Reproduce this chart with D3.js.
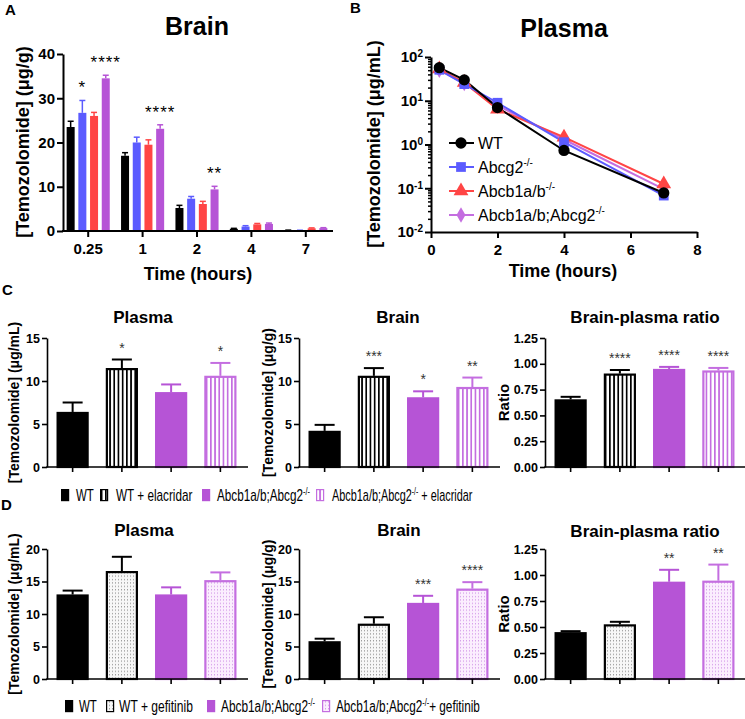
<!DOCTYPE html>
<html><head><meta charset="utf-8">
<script src="https://cdn.jsdelivr.net/npm/d3@7"></script>
<style>
body{margin:0;background:#fff;}
svg{display:block;font-family:"Liberation Sans",Arial,Helvetica,sans-serif;}
</style></head><body>
<svg id="c" width="745" height="719"></svg>
<script>
// ================= DATA =================
// Panel A: brain concentrations (µg/g) by time point and genotype
const timeLabelsA = ["0.25","1","2","4","7"];
const genotypes = ["WT","Abcg2-/-","Abcb1a/b-/-","Abcb1a/b;Abcg2-/-"];
const brainWT       = [23.5, 17.0, 5.2, 0.5, 0.15];
const brainAbcg2    = [26.7, 20.0, 7.3, 1.0, 0.12];
const brainAbcb1    = [26.0, 19.5, 6.1, 1.5, 0.6];
const brainComb     = [34.5, 23.1, 9.4, 1.6, 0.65];
const brainWTErr    = [1.3, 0.7, 0.6, 0.1, 0.05];
const brainAbcg2Err = [2.8, 1.2, 0.5, 0.2, 0.05];
const brainAbcb1Err = [0.8, 1.1, 0.6, 0.2, 0.1];
const brainCombErr  = [0.7, 0.9, 0.7, 0.2, 0.1];
const starsA_WT    = ["","","","",""];
const starsA_Abcg2 = ["*","","","",""];
const starsA_Abcb1 = ["","","","",""];
const starsA_Comb  = ["****","****","**","",""];

// Panel B: plasma concentrations (µg/mL), log scale
const plasmaTimes = [0.25, 1, 2, 4, 7];
const plasmaWT    = [57, 30, 7.0, 0.73, 0.078];
const plasmaAbcg2 = [51, 24, 9.0, 1.13, 0.068];
const plasmaAbcb1 = [53, 26, 6.4, 1.47, 0.125];
const plasmaComb  = [50, 25, 7.8, 1.30, 0.095];
const plasmaXTicks = [0, 2, 4, 6, 8];
const plasmaYTicks = [0.01, 0.1, 1, 10, 100];

// Panel C: elacridar
const groupsC      = ["WT","WT + elacridar","Abcb1a/b;Abcg2-/-","Abcb1a/b;Abcg2-/- + elacridar"];
const cPlasma      = [6.4, 11.5, 8.7, 10.6];
const cPlasmaErr   = [1.1, 1.0, 0.9, 1.5];
const cPlasmaStars = ["","*","","*"];
const cBrain       = [4.2, 10.6, 8.1, 9.3];
const cBrainErr    = [0.7, 0.9, 0.7, 1.1];
const cBrainStars  = ["","***","*","**"];
const cRatio       = [0.655, 0.905, 0.950, 0.935];
const cRatioErr    = [0.025, 0.035, 0.020, 0.025];
const cRatioStars  = ["","****","****","****"];

// Panel D: gefitinib
const groupsD      = ["WT","WT + gefitinib","Abcb1a/b;Abcg2-/-","Abcb1a/b;Abcg2-/-+ gefitinib"];
const dPlasma      = [13.0, 16.6, 13.0, 15.2];
const dPlasmaErr   = [0.6, 2.2, 1.1, 1.2];
const dPlasmaStars = ["","","",""];
const dBrain       = [5.8, 8.5, 11.7, 13.9];
const dBrainErr    = [0.4, 1.0, 1.1, 1.0];
const dBrainStars  = ["","","***","****"];
const dRatio       = [0.450, 0.525, 0.935, 0.945];
const dRatioErr    = [0.010, 0.025, 0.115, 0.155];
const dRatioStars  = ["","","**","**"];

const ticks15  = [0,5,10,15];
const ticks20  = [0,5,10,15,20];
const ticksRat = [0,0.25,0.5,0.75,1.0,1.25];

// ================= DRAW =================
const svg = d3.select("#c");
const defs = svg.append("defs");
const C_BLUE = "#5b5bff", C_RED = "#ff4545", C_PUR = "#b654d6", C_PUR2 = "#c46ee0";

function stripePattern(id, color){
  const p = defs.append("pattern").attr("id",id).attr("patternUnits","userSpaceOnUse").attr("width",4.2).attr("height",10);
  p.append("rect").attr("width",4.2).attr("height",10).attr("fill","#fff");
  p.append("rect").attr("x",0).attr("width",1.7).attr("height",10).attr("fill",color);
}
function dotPattern(id,bg,dot){
  const p = defs.append("pattern").attr("id",id).attr("patternUnits","userSpaceOnUse").attr("width",3).attr("height",3.4);
  p.append("rect").attr("width",3).attr("height",3.4).attr("fill",bg);
  p.append("rect").attr("x",1).attr("y",1).attr("width",1).attr("height",1.1).attr("fill",dot);
}
stripePattern("stripeK","#000");
stripePattern("stripeP",C_PUR2);
dotPattern("dotK","#f7f7f7","#8a8a8a");
dotPattern("dotP","#fbeefe","#cf8fe6");

function T(parent, x, y, str, o={}){
  const size = o.size||14;
  const t = parent.append("text").attr("x",x).attr("y",y)
    .attr("font-size",size).attr("font-weight",o.bold?"bold":"normal")
    .attr("text-anchor",o.anchor||"start").attr("fill",o.fill||"#000");
  if(o.rotate) t.attr("transform",`rotate(-90,${x},${y})`);
  if(o.ls) t.attr("letter-spacing",o.ls);
  const parts = String(str).split(/(-\/-)/);
  const supSize = o.supSize || Math.round(size*0.62);
  const rise = o.rise || size*0.42;
  let raised=false;
  parts.forEach(p=>{
    if(!p) return;
    if(p==="-/-"){ t.append("tspan").attr("dy",-rise).attr("font-size",supSize).text(p); raised=true; }
    else { const s=t.append("tspan").text(p); if(raised){ s.attr("dy",rise); raised=false; } }
  });
  return t;
}

// panel letters
T(svg,5,15,"A",{bold:true,size:15});
T(svg,350,13,"B",{bold:true,size:15});
T(svg,2,295,"C",{bold:true,size:15});
T(svg,1,510,"D",{bold:true,size:15});

// ---------- Panel A ----------
(function(){
  const g = svg.append("g");
  const x = d3.scaleBand().domain(timeLabelsA).range([61,333]);
  const xi = d3.scaleBand().domain(genotypes).range([-23.4,23.4]).paddingInner(0.316).paddingOuter(0.158);
  const y = d3.scaleLinear().domain([0,40]).range([231,54]);
  const series = [
    {v:brainWT, e:brainWTErr, s:starsA_WT, c:"#000"},
    {v:brainAbcg2, e:brainAbcg2Err, s:starsA_Abcg2, c:C_BLUE},
    {v:brainAbcb1, e:brainAbcb1Err, s:starsA_Abcb1, c:C_RED},
    {v:brainComb, e:brainCombErr, s:starsA_Comb, c:C_PUR}
  ];
  series.forEach((ser,si)=>{
    timeLabelsA.forEach((t,ti)=>{
      const bx = x(t)+x.bandwidth()/2 + xi(genotypes[si]);
      const cx = bx + xi.bandwidth()/2;
      const v = ser.v[ti], e = ser.e[ti];
      g.append("rect").attr("x",bx).attr("y",y(v)).attr("width",xi.bandwidth()).attr("height",y(0)-y(v)).attr("fill",ser.c);
      g.append("line").attr("x1",cx).attr("x2",cx).attr("y1",y(v)).attr("y2",y(v+e)).attr("stroke",ser.c).attr("stroke-width",1.5);
      g.append("line").attr("x1",cx-3).attr("x2",cx+3).attr("y1",y(v+e)).attr("y2",y(v+e)).attr("stroke",ser.c).attr("stroke-width",1.5);
      if(ser.s[ti]) T(g,cx,y(v+e)-7,ser.s[ti],{size:17,anchor:"middle",ls:1});
    });
  });
  const ya = g.append("g").attr("transform","translate(63,0)")
    .call(d3.axisLeft(y).tickValues([0,10,20,30,40]).tickSize(6).tickSizeOuter(0).tickPadding(2));
  ya.selectAll("path,line").attr("stroke","#000").attr("stroke-width",2);
  ya.selectAll("text").attr("font-size",15).attr("font-weight","bold").attr("font-family",null);
  g.append("line").attr("x1",62).attr("x2",333).attr("y1",231).attr("y2",231).attr("stroke","#000").attr("stroke-width",2);
  timeLabelsA.forEach(t=>{
    const cx = x(t)+x.bandwidth()/2;
    g.append("line").attr("x1",cx).attr("x2",cx).attr("y1",231).attr("y2",237).attr("stroke","#000").attr("stroke-width",2);
    T(g,cx,254,t,{size:15,bold:true,anchor:"middle"});
  });
  T(g,197,35,"Brain",{size:25,bold:true,anchor:"middle"});
  T(g,198,280,"Time (hours)",{size:18,bold:true,anchor:"middle"});
  T(g,29,142,"[Temozolomide] (μg/g)",{size:18,bold:true,anchor:"middle",rotate:true});
})();

// ---------- Panel B ----------
(function(){
  const g = svg.append("g");
  const x = d3.scaleLinear().domain([0,8]).range([431,697]);
  const y = d3.scaleLog().domain([0.01,100]).range([232,57]);
  const series = [
    {v:plasmaComb, c:C_PUR2, sym:d3.symbolDiamond, size:70, name:genotypes[3]},
    {v:plasmaAbcb1, c:C_RED, sym:d3.symbolTriangle, size:95, name:genotypes[2]},
    {v:plasmaAbcg2, c:C_BLUE, sym:d3.symbolSquare, size:95, name:genotypes[1]},
    {v:plasmaWT, c:"#000", sym:d3.symbolCircle, size:100, name:genotypes[0]}
  ];
  const line = d3.line().x((d,i)=>x(plasmaTimes[i])).y(d=>y(d));
  series.forEach(s=>{
    g.append("path").attr("d",line(s.v)).attr("fill","none").attr("stroke",s.c).attr("stroke-width",2);
  });
  series.forEach(s=>{
    s.v.forEach((v,i)=>{
      g.append("path").attr("d",d3.symbol(s.sym,s.size)()).attr("transform",`translate(${x(plasmaTimes[i])},${y(v)})`).attr("fill",s.c);
    });
  });
  const minors=[];
  [0.01,0.1,1,10].forEach(d=>{for(let k=2;k<=9;k++) minors.push(d*k);});
  const ym = g.append("g").attr("transform","translate(431,0)")
    .call(d3.axisLeft(y).tickValues(minors).tickSize(3).tickSizeOuter(0).tickFormat(""));
  ym.selectAll("line").attr("stroke","#000").attr("stroke-width",1.5);
  ym.select("path").remove();
  const ya = g.append("g").attr("transform","translate(431,0)")
    .call(d3.axisLeft(y).tickValues(plasmaYTicks).tickSize(6).tickSizeOuter(0).tickPadding(2));
  ya.selectAll("path,line").attr("stroke","#000").attr("stroke-width",2);
  ya.selectAll("text").attr("font-family",null).attr("font-weight","bold").attr("font-size",15).each(function(d){
    const t=d3.select(this); const ex=Math.round(Math.log10(d));
    t.text(null);
    t.append("tspan").text("10");
    t.append("tspan").attr("dy","-0.5em").attr("font-size",10).text(ex);
  });
  const xa = g.append("g").attr("transform","translate(0,232)")
    .call(d3.axisBottom(x).tickValues(plasmaXTicks).tickSize(6).tickSizeOuter(0).tickPadding(6));
  xa.selectAll("path,line").attr("stroke","#000").attr("stroke-width",2);
  xa.selectAll("text").attr("font-family",null).attr("font-weight","bold").attr("font-size",15);
  T(g,564,37,"Plasma",{size:25,bold:true,anchor:"middle"});
  T(g,563,277,"Time (hours)",{size:18,bold:true,anchor:"middle"});
  T(g,380,144,"[Temozolomide] (μg/mL)",{size:18,bold:true,anchor:"middle",rotate:true});
  const order=[3,2,1,0];
  order.forEach((si,k)=>{
    const s=series[si]; const ly=143+k*24;
    g.append("line").attr("x1",449).attr("x2",474).attr("y1",ly).attr("y2",ly).attr("stroke",s.c).attr("stroke-width",2);
    g.append("path").attr("d",d3.symbol(s.sym,s.size)()).attr("transform",`translate(461,${ly})`).attr("fill",s.c);
    T(g,478,ly+6,s.name,{size:16});
  });
})();

// ---------- Panels C / D ----------
function barPanel(o){
  const g = svg.append("g");
  const x = d3.scaleBand().domain(o.cats).range([o.ax+1,o.ax+198]).paddingInner(0.35).paddingOuter(0.175);
  const y = d3.scaleLinear().domain([0,o.max]).range([o.y0,o.y1]);
  o.vals.forEach((v,i)=>{
    const st=o.styles[i];
    const bx=x(o.cats[i]), cx=bx+x.bandwidth()/2, e=o.errs[i];
    g.append("line").attr("x1",cx).attr("x2",cx).attr("y1",y(v)).attr("y2",y(v+e)).attr("stroke",st.err).attr("stroke-width",2);
    g.append("line").attr("x1",cx-10).attr("x2",cx+10).attr("y1",y(v+e)).attr("y2",y(v+e)).attr("stroke",st.err).attr("stroke-width",2);
    g.append("rect").attr("x",bx+1).attr("y",y(v)+1).attr("width",x.bandwidth()-2).attr("height",y(0)-y(v)-1)
      .attr("fill",st.fill).attr("stroke",st.stroke).attr("stroke-width",2.2);
    if(o.stars[i]) T(g,cx,y(v+e)-7,o.stars[i],{size:14,anchor:"middle",fill:"#333"});
  });
  const ya = g.append("g").attr("transform",`translate(${o.ax},0)`)
    .call(d3.axisLeft(y).tickValues(o.ticks).tickSize(5).tickSizeOuter(0).tickPadding(2).tickFormat(o.fmt));
  ya.selectAll("path,line").attr("stroke","#000").attr("stroke-width",1.6);
  ya.selectAll("text").attr("font-family",null).attr("font-weight","bold").attr("font-size",12.5);
  g.append("line").attr("x1",o.ax-0.8).attr("x2",o.ax+201).attr("y1",o.y0).attr("y2",o.y0).attr("stroke","#000").attr("stroke-width",1.6);
  o.cats.forEach(c=>{
    const cx=x(c)+x.bandwidth()/2;
    g.append("line").attr("x1",cx).attr("x2",cx).attr("y1",o.y0).attr("y2",o.y0+5).attr("stroke","#000").attr("stroke-width",1.6);
  });
  T(g,o.tx,o.ty,o.title,{size:17,bold:true,anchor:"middle"});
  T(g,o.lx,(o.y0+o.y1)/2,o.ylab,{size:o.lsize||14,bold:true,anchor:"middle",rotate:true});
}
const stylesC=[
  {fill:"#000",stroke:"#000",err:"#000"},
  {fill:"url(#stripeK)",stroke:"#000",err:"#000"},
  {fill:C_PUR,stroke:C_PUR,err:C_PUR},
  {fill:"url(#stripeP)",stroke:C_PUR2,err:C_PUR2}];
const stylesD=[
  {fill:"#000",stroke:"#000",err:"#000"},
  {fill:"url(#dotK)",stroke:"#000",err:"#000"},
  {fill:C_PUR,stroke:C_PUR,err:C_PUR},
  {fill:"url(#dotP)",stroke:C_PUR2,err:C_PUR2}];
const f0=d3.format("d"), f2=d3.format(".2f");
barPanel({cats:groupsC,vals:cPlasma,errs:cPlasmaErr,stars:cPlasmaStars,styles:stylesC,ax:47,y0:467,y1:338,max:15,ticks:ticks15,fmt:f0,title:"Plasma",tx:143,ty:323,ylab:"[Temozolomide] (μg/mL)",lx:19});
barPanel({cats:groupsC,vals:cBrain,errs:cBrainErr,stars:cBrainStars,styles:stylesC,ax:299,y0:467,y1:338,max:15,ticks:ticks15,fmt:f0,title:"Brain",tx:398,ty:323,ylab:"[Temozolomide] (μg/g)",lx:273});
barPanel({cats:groupsC,vals:cRatio,errs:cRatioErr,stars:cRatioStars,styles:stylesC,ax:545,y0:467,y1:338,max:1.25,ticks:ticksRat,fmt:f2,title:"Brain-plasma ratio",tx:645,ty:323,ylab:"Ratio",lx:509,lsize:15});
barPanel({cats:groupsD,vals:dPlasma,errs:dPlasmaErr,stars:dPlasmaStars,styles:stylesD,ax:47,y0:679,y1:549,max:20,ticks:ticks20,fmt:f0,title:"Plasma",tx:144,ty:536,ylab:"[Temozolomide] (μg/mL)",lx:19});
barPanel({cats:groupsD,vals:dBrain,errs:dBrainErr,stars:dBrainStars,styles:stylesD,ax:299,y0:679,y1:549,max:20,ticks:ticks20,fmt:f0,title:"Brain",tx:399,ty:536,ylab:"[Temozolomide] (μg/g)",lx:273});
barPanel({cats:groupsD,vals:dRatio,errs:dRatioErr,stars:dRatioStars,styles:stylesD,ax:545,y0:679,y1:549,max:1.25,ticks:ticksRat,fmt:f2,title:"Brain-plasma ratio",tx:645,ty:537,ylab:"Ratio",lx:509,lsize:15});

// legends (horizontally condensed text, like the original)
function legend(labels, styles, boxX, textX, lens, base){
  const g=svg.append("g");
  labels.forEach((l,i)=>{
    g.append("rect").attr("x",boxX[i]+0.6).attr("y",base-12+0.6).attr("width",7).attr("height",11)
      .attr("fill",styles[i].fill).attr("stroke",styles[i].stroke).attr("stroke-width",1.2);
    const t=T(g,0,0,l,{size:16,supSize:10,rise:6});
    const w=t.node().getBBox().width;
    t.attr("transform",`translate(${textX[i]},${base}) scale(${lens[i]/w},1)`);
  });
}
legend(groupsC,stylesC,[61,100,202,316],[76,116,217,332],[18,77,93,141],501);
legend(groupsD,stylesD,[65,106,207,322],[79,119,221,336],[18,74,94,144],712);
</script>
</body></html>
